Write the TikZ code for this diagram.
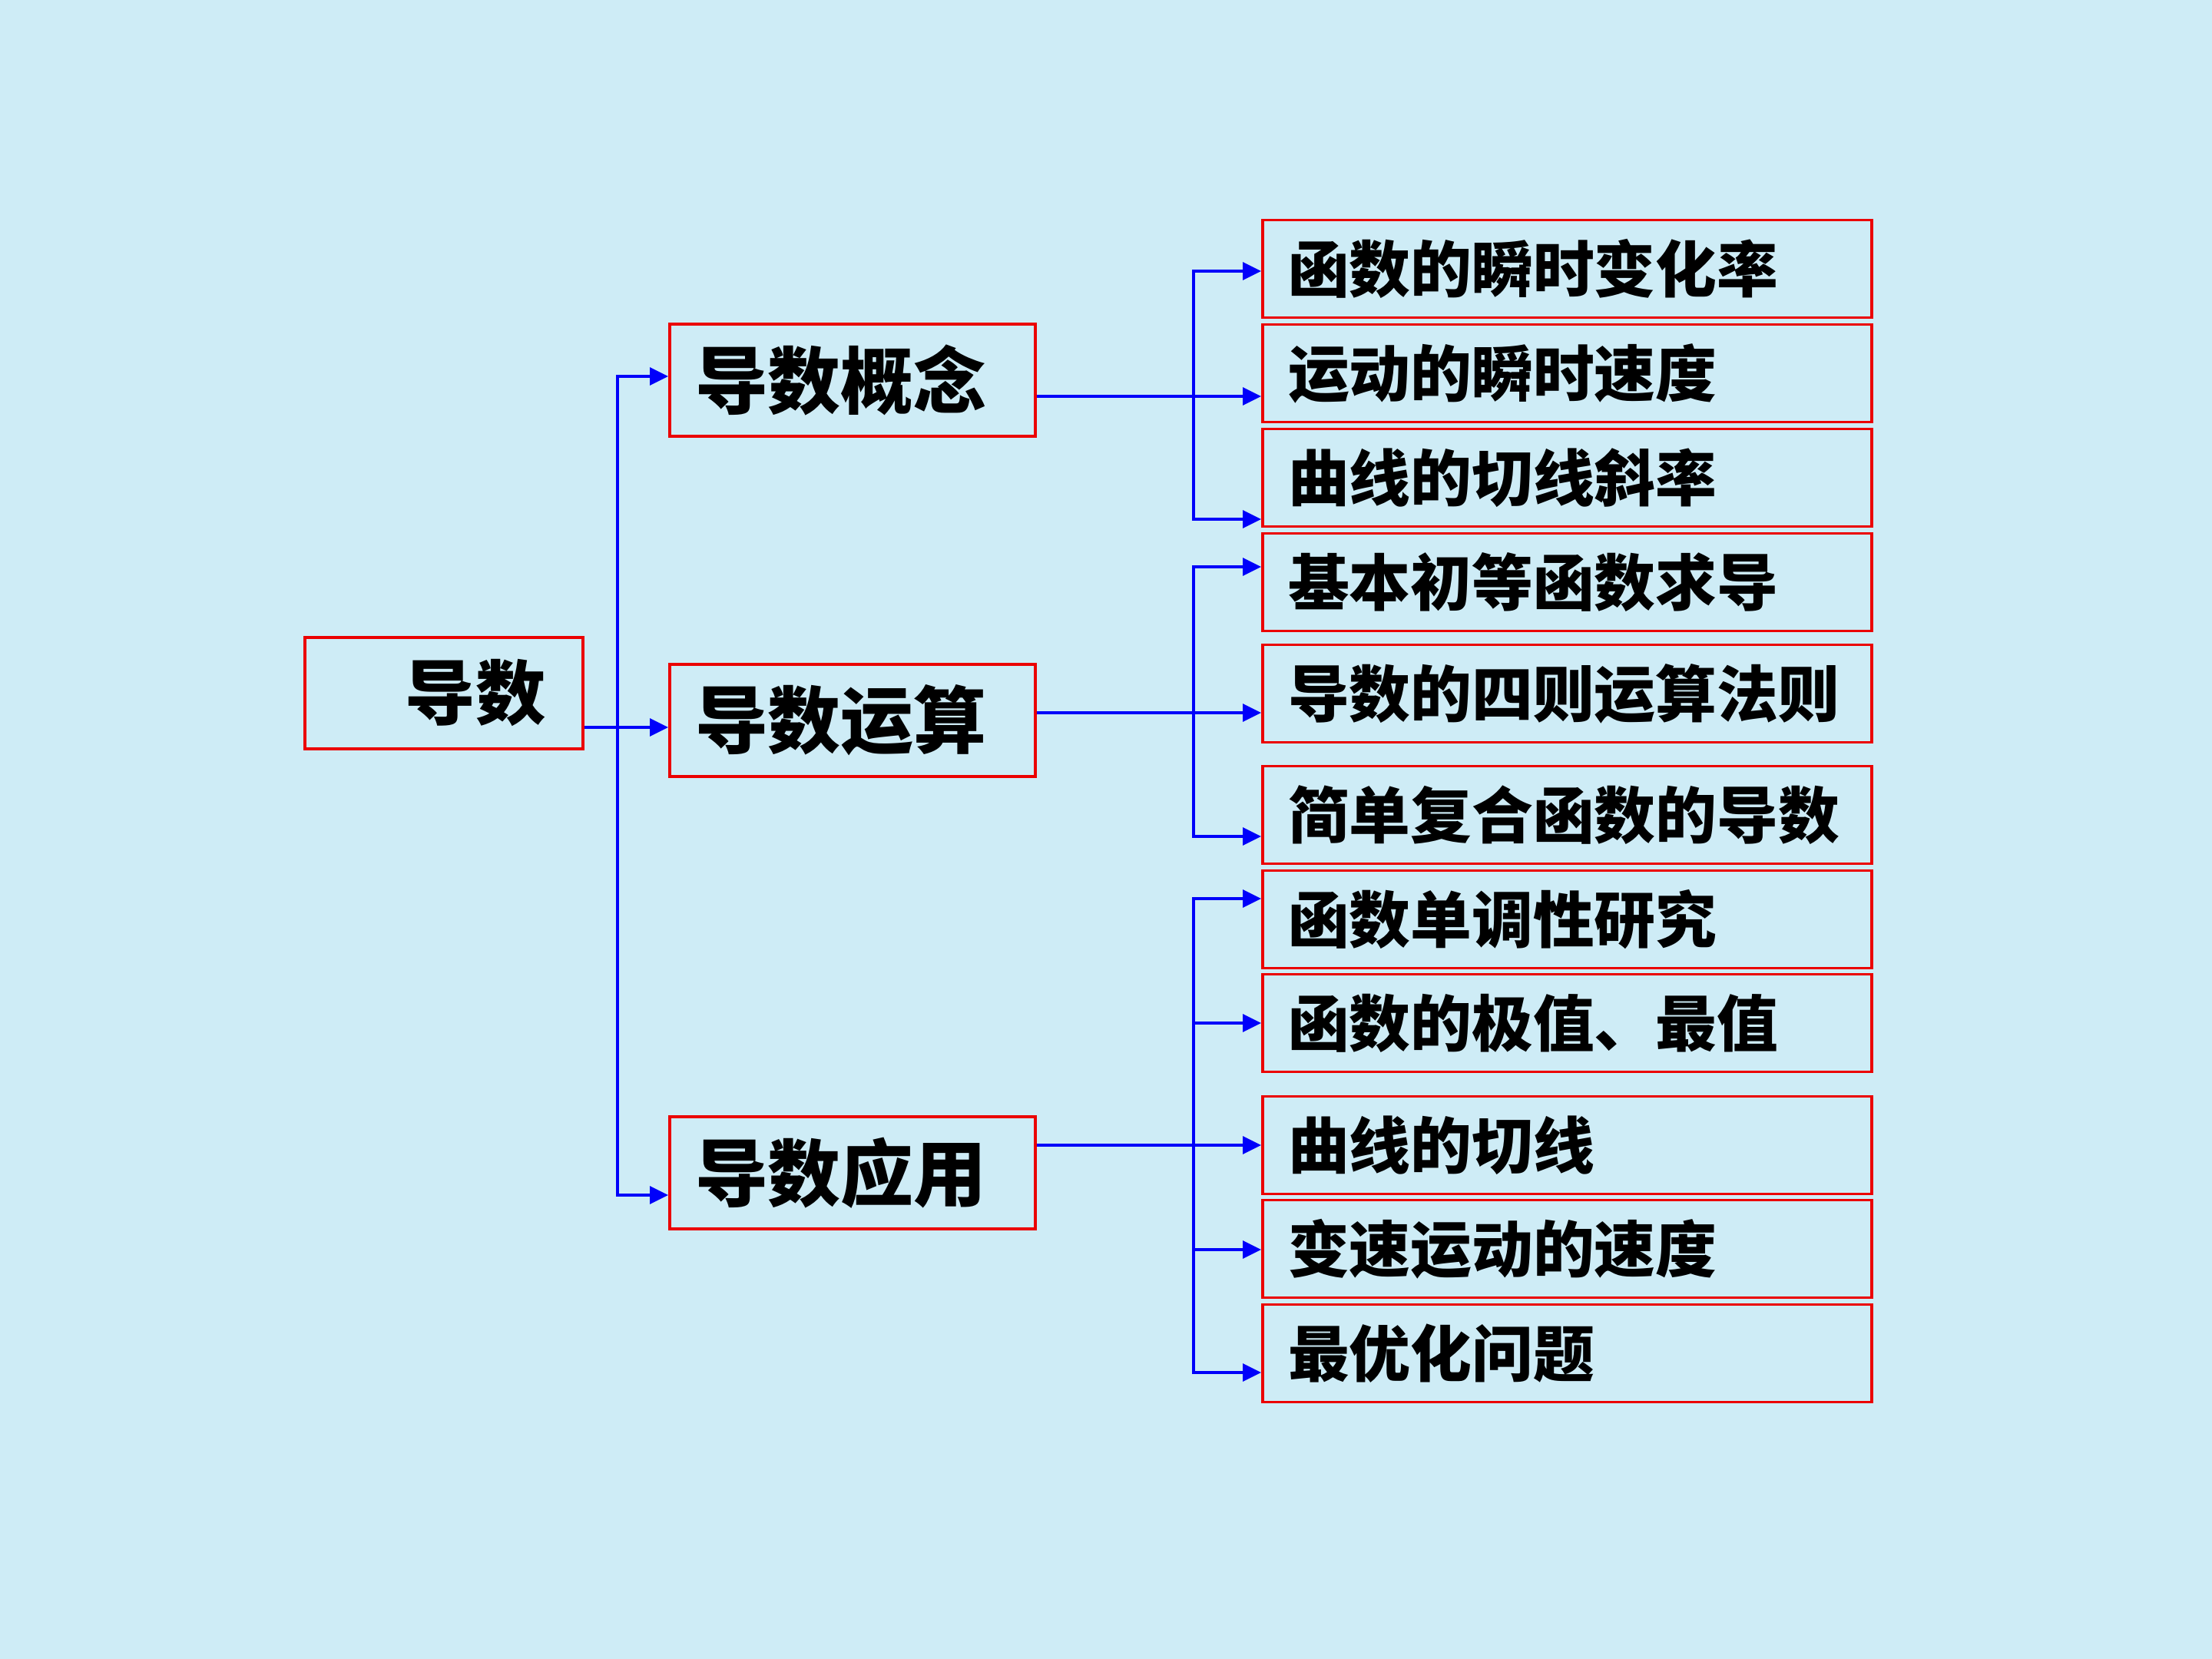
\documentclass[tikz,border=0pt]{standalone}
\usepackage{fontspec}
\newfontfamily\cjk{Noto Sans CJK SC}
\usetikzlibrary{arrows.meta}
\definecolor{bgblue}{RGB}{206,236,246}
\definecolor{boxred}{RGB}{235,0,0}
\definecolor{linkblue}{RGB}{0,0,250}
\begin{document}
\begin{tikzpicture}[
  box/.style={draw=boxred,line width=1.1pt,rectangle,inner xsep=0.33cm,inner ysep=0pt},
  topbox/.style={box,minimum width=3.62cm,minimum height=1.45cm,font={\cjk\bfseries\fontsize{26}{30}\selectfont}},
  midbox/.style={box,text width=4.10cm,minimum height=1.46cm,align=left,font={\cjk\bfseries\fontsize{27}{31}\selectfont}},
  leafbox/.style={box,text width=7.27cm,minimum height=1.27cm,align=left,font={\cjk\bfseries\fontsize{22.7}{26}\selectfont}},
  wire/.style={draw=linkblue,line width=0.9pt},
  link/.style={wire,-{Triangle[length=0.24cm,width=0.23cm]}}]
  % background
  \fill[bgblue] (0,0) rectangle (28.8,-21.6);
  \useasboundingbox (0,0) rectangle (28.8,-21.6);
  %
  % root and middle nodes
  \node[topbox] (n0) at (5.78,-9.025) {\hspace{0.9em}导数};
  \node[midbox] (n1) at (11.10,-4.95) {导数概念};
  \node[midbox] (n2) at (11.10,-9.38) {导数运算};
  \node[midbox] (n3) at (11.10,-15.27) {导数应用};
  %
  % leaf nodes
  \node[leafbox] (r1) at (20.405,-3.50) {函数的瞬时变化率};
  \node[leafbox] (r2) at (20.405,-4.86) {运动的瞬时速度};
  \node[leafbox] (r3) at (20.405,-6.22) {曲线的切线斜率};
  \node[leafbox] (r4) at (20.405,-7.58) {基本初等函数求导};
  \node[leafbox] (r5) at (20.405,-9.03) {导数的四则运算法则};
  \node[leafbox] (r6) at (20.405,-10.61) {简单复合函数的导数};
  \node[leafbox] (r7) at (20.405,-11.97) {函数单调性研究};
  \node[leafbox] (r8) at (20.405,-13.32) {函数的极值、最值};
  \node[leafbox] (r9) at (20.405,-14.91) {曲线的切线};
  \node[leafbox] (r10) at (20.405,-16.26) {变速运动的速度};
  \node[leafbox] (r11) at (20.405,-17.62) {最优化问题};
  %
  % branch points
  \coordinate (t0) at (8.04,-9.47);
  \coordinate (b1) at (15.54,-5.16);
  \coordinate (b2) at (15.54,-9.28);
  \coordinate (b3) at (15.54,-14.91);
  %
  % root edges
  \draw[link] (n0.east |- t0) -- (n2.west |- t0);
  \draw[link] (t0) |- ([yshift=0.05cm]n1.west);
  \draw[link] (t0) |- ([yshift=-0.29cm]n3.west);
  %
  % edges of n1
  \draw[link] (n1.east |- b1) -- (r2.west |- b1);
  \draw[link] (b1) |- ([yshift=-0.03cm]r1.west);
  \draw[link] (b1) |- ([yshift=-0.54cm]r3.west);
  %
  % edges of n2
  \draw[link] (n2.east |- b2) -- (r5.west |- b2);
  \draw[link] (b2) |- ([yshift=0.20cm]r4.west);
  \draw[link] (b2) |- ([yshift=-0.28cm]r6.west);
  %
  % edges of n3
  \draw[link] (n3.east |- b3) -- (r9.west |- b3);
  \draw[link] (b3) |- ([yshift=0.27cm]r7.west);
  \draw[link] (b3) |- (r8.west);
  \draw[link] (b3) |- ([yshift=-0.01cm]r10.west);
  \draw[link] (b3) |- ([yshift=-0.25cm]r11.west);
\end{tikzpicture}
\end{document}
